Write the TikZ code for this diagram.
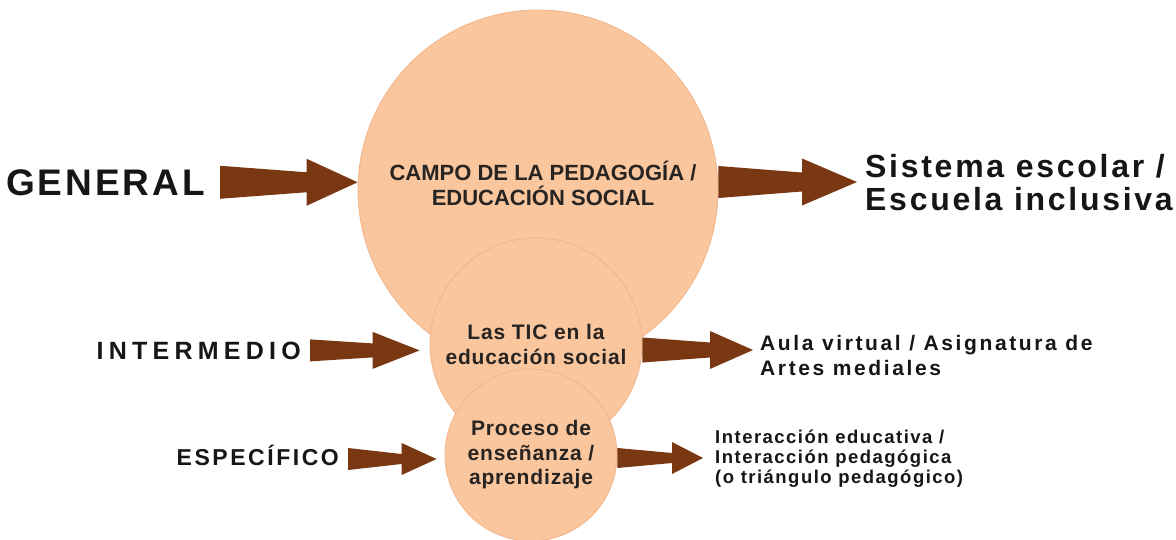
\documentclass[tikz,border=0pt]{standalone}
\usepackage{fontspec}
\setmainfont{Liberation Sans}
\usetikzlibrary{calc}

\definecolor{peach}{RGB}{249,198,158}
\definecolor{peachline}{RGB}{243,180,138}
\definecolor{arrowbrown}{RGB}{122,56,18}
\definecolor{ink}{RGB}{22,22,22}
\definecolor{circleink}{RGB}{40,36,34}

% tapered block arrow: shaft start/shaft end/head width/head length
\tikzset{
  taper/.style args={#1/#2/#3/#4}{to path={let \p1=(\tikztostart), \p2=(\tikztotarget) in
    (\x1,\y1+#1pt/2) -- (\x2-#4pt,\y1+#2pt/2) -- (\x2-#4pt,\y1+#3pt/2) -- (\x2,\y1)
    -- (\x2-#4pt,\y1-#3pt/2) -- (\x2-#4pt,\y1-#2pt/2) -- (\x1,\y1-#1pt/2) -- cycle}}
}

\begin{document}
\begin{tikzpicture}[x=1pt,y=-1pt]
  \useasboundingbox[fill=white] (0,0) rectangle (1176,539);

  % the three levels
  \begin{scope}[every node/.style={circle,fill=peach,draw=peachline,line width=0.8pt,inner sep=0pt,
      text=circleink,font=\bfseries,align=center}]
    \node[minimum size=360pt] (campo) at (538,190) {};
    \node[minimum size=212pt,font=\bfseries\fontsize{21}{25}\selectfont\addfontfeature{LetterSpace=4}]
      (tic) at (536,344) {Las TIC en la\\educación social};
    \node[minimum size=172pt,font=\bfseries\fontsize{21}{24.5}\selectfont\addfontfeature{LetterSpace=4}]
      (proc) at (531,455) {Proceso de\\enseñanza /\\aprendizaje};
  \end{scope}
  \node[text=circleink,inner sep=0pt,align=center,font=\bfseries\fontsize{22}{25}\selectfont]
    (campotxt) at (543,183) {CAMPO DE LA PEDAGOGÍA /\\EDUCACIÓN SOCIAL};

  % level names
  \begin{scope}[every node/.style={text=ink,inner sep=0pt,anchor=base east}]
    \node[font=\bfseries\fontsize{37}{40}\selectfont\addfontfeature{LetterSpace=8}] (general) at (205,195) {GENERAL};
    \node[font=\bfseries\fontsize{25}{28}\selectfont\addfontfeature{LetterSpace=21}] (intermedio) at (301,359) {INTERMEDIO};
    \node[font=\bfseries\fontsize{23}{26}\selectfont\addfontfeature{LetterSpace=11}] (especifico) at (339,465) {ESPECÍFICO};
  \end{scope}

  % outcomes
  \begin{scope}[every node/.style={text=ink,inner sep=0pt,anchor=west,align=left}]
    \node[font=\bfseries\fontsize{32}{33}\selectfont\addfontfeature{LetterSpace=8.5}] (sistema) at (865,183)
      {Sistema escolar /\\Escuela inclusiva};
    \node[font=\bfseries\fontsize{21}{25}\selectfont\addfontfeature{LetterSpace=12.5}] (aula) at (760,355)
      {Aula virtual / Asignatura de\\Artes mediales};
    \node[font=\bfseries\fontsize{18.5}{20}\selectfont\addfontfeature{LetterSpace=8}] (interaccion) at (715,459)
      {Interacción educativa /\\Interacción pedagógica\\(o triángulo pedagógico)};
  \end{scope}

  % block arrows
  \begin{scope}[every path/.style={fill=arrowbrown}]
    \path ([xshift=15pt]general.east) to[taper=33/20/47/51] (campo.west);
    \path ([yshift=8pt]campo.east) to[taper=32/19/47/55] ([xshift=-8pt]sistema.west);
    \path ([xshift=9pt]intermedio.east) to[taper=22/14/37/47] ([xshift=-10pt]tic.west);
    \path ([yshift=-6pt]tic.east) to[taper=25/15/38/43] ([xshift=-7pt]aula.west);
    \path ([xshift=9pt,yshift=6pt]especifico.base east) to[taper=22/10/32/35] ([xshift=-8pt]proc.west);
    \path ([yshift=-3pt]proc.east) to[taper=20/10/32/31] ([xshift=-12pt]interaccion.west);
  \end{scope}
\end{tikzpicture}
\end{document}
